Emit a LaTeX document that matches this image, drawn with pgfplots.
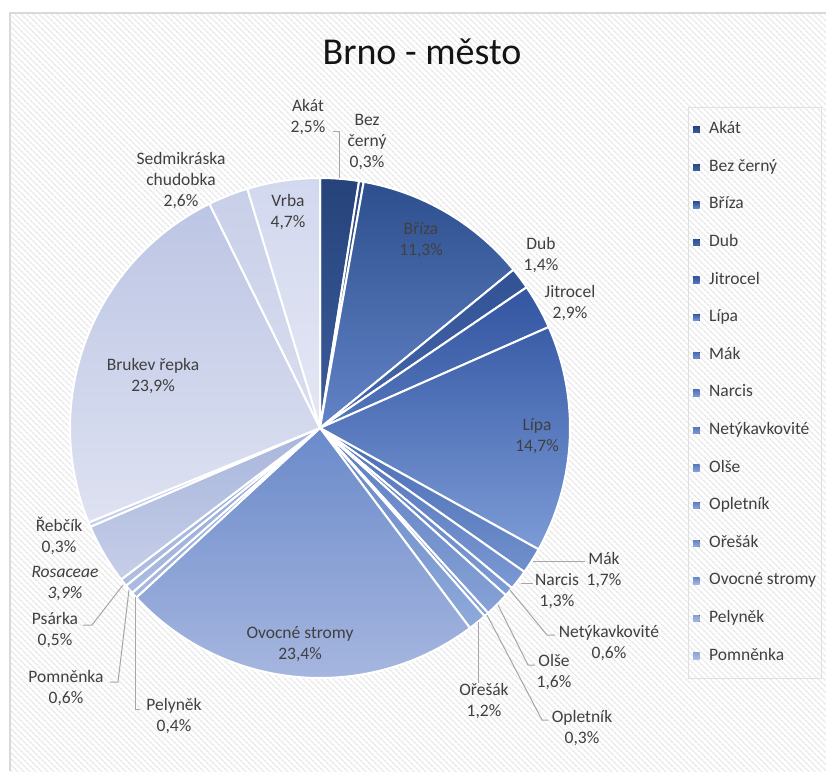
\documentclass[border=0pt]{standalone}
\usepackage{pgfplots}
\pgfplotsset{compat=1.18}
\usepackage{fontspec}
\setmainfont{Carlito}
\usetikzlibrary{patterns.meta}

\definecolor{lbl}{HTML}{404040}
\definecolor{lead}{HTML}{A6A6A6}
\definecolor{c1t}{HTML}{26437A}\definecolor{c1b}{HTML}{3C5C9C}
\definecolor{c2t}{HTML}{2A4882}\definecolor{c2b}{HTML}{4060A0}
\definecolor{c3t}{HTML}{2E4F8E}\definecolor{c3b}{HTML}{6283C6}
\definecolor{c4t}{HTML}{305294}\definecolor{c4b}{HTML}{486AAE}
\definecolor{c5t}{HTML}{3456A2}\definecolor{c5b}{HTML}{5476BA}
\definecolor{c6t}{HTML}{3A5DA8}\definecolor{c6b}{HTML}{7C9BD6}
\definecolor{c7t}{HTML}{4A6CB4}\definecolor{c7b}{HTML}{7090CC}
\definecolor{c8t}{HTML}{5272BA}\definecolor{c8b}{HTML}{7A98D2}
\definecolor{c9t}{HTML}{5878BE}\definecolor{c9b}{HTML}{809CD4}
\definecolor{c10t}{HTML}{5C7CC0}\definecolor{c10b}{HTML}{86A2D6}
\definecolor{c11t}{HTML}{6080C4}\definecolor{c11b}{HTML}{8AA6D8}
\definecolor{c12t}{HTML}{6584C6}\definecolor{c12b}{HTML}{8EAADA}
\definecolor{c13t}{HTML}{6A8ACA}\definecolor{c13b}{HTML}{A6B6DF}
\definecolor{c14t}{HTML}{8AA0D4}\definecolor{c14b}{HTML}{A8B8E0}
\definecolor{c15t}{HTML}{90A6D6}\definecolor{c15b}{HTML}{ACBCE2}
\definecolor{c16t}{HTML}{96AAD8}\definecolor{c16b}{HTML}{B0BEE2}
\definecolor{c17t}{HTML}{A8B6DC}\definecolor{c17b}{HTML}{C6CEE8}
\definecolor{c18t}{HTML}{B2BEE0}\definecolor{c18b}{HTML}{C8D0EA}
\definecolor{c19t}{HTML}{BCC5E4}\definecolor{c19b}{HTML}{DEE2F1}
\definecolor{c20t}{HTML}{C8CFE8}\definecolor{c20b}{HTML}{DADEF0}
\definecolor{c21t}{HTML}{D2D8EE}\definecolor{c21b}{HTML}{E4E7F4}

\tikzset{slice/.style={draw=white,line width=2pt,line join=round},
  lab/.style={align=center,text=lbl,font=\fontsize{17.5}{21}\selectfont,inner sep=0pt},
  ldr/.style={draw=lead,line width=1pt}}

\gdef\cum{0}
\newcommand\slice[3]{%
  \pgfmathsetmacro\sA{90-3.5964*\cum}%
  \pgfmathsetmacro\cumnew{\cum+#1}%
  \xdef\cum{\cumnew}%
  \pgfmathsetmacro\sB{90-3.5964*\cum}%
  \pgfmathtruncatemacro\samp{max(4,4*#1)}%
  \edef\temp{\noexpand\addplot[slice,top color=#2,bottom color=#3,domain=\sB:\sA,samples=\samp]}%
  \temp ({320+250*cos(x)},{343+250*sin(x)}) -- (axis cs:320,343) -- cycle;%
}

\begin{document}
\begin{tikzpicture}
\begin{axis}[x=1pt,y=1pt,xmin=0,xmax=826,ymin=0,ymax=771,hide axis,
  legend style={at={(axis description cs:0.8329,0.8612)},anchor=north west,
    draw=black!12,fill=none,font=\fontsize{17.5}{21}\selectfont,text=lbl,
    inner xsep=5pt,inner ysep=14pt,row sep=20.6pt,column sep=9.5pt,
    nodes={inner sep=0pt,text height=12.5pt,text depth=4.5pt}},
  legend cell align=left,
  legend image code/.code={\fill[#1,draw=none] (0pt,-3.25pt) rectangle (6.5pt,3.25pt);}]

\fill[white] (axis cs:0,0) rectangle (axis cs:826,771);
\fill[pattern={Lines[angle=-45,distance=4pt,line width=1.4pt]},pattern color=black!9]
  (axis cs:10,0) rectangle (axis cs:826,758);
\draw[black!15,line width=1.5pt] (axis cs:10,0) -- (axis cs:10,758) -- (axis cs:826,758);

\slice{2.5}{c1t}{c1b}\addlegendentry{Akát}
\slice{0.3}{c2t}{c2b}\addlegendentry{Bez černý}
\slice{11.3}{c3t}{c3b}\addlegendentry{Bříza}
\slice{1.4}{c4t}{c4b}\addlegendentry{Dub}
\slice{2.9}{c5t}{c5b}\addlegendentry{Jitrocel}
\slice{14.7}{c6t}{c6b}\addlegendentry{Lípa}
\slice{1.7}{c7t}{c7b}\addlegendentry{Mák}
\slice{1.3}{c8t}{c8b}\addlegendentry{Narcis}
\slice{0.6}{c9t}{c9b}\addlegendentry{Netýkavkovité}
\slice{1.6}{c10t}{c10b}\addlegendentry{Olše}
\slice{0.3}{c11t}{c11b}\addlegendentry{Opletník}
\slice{1.2}{c12t}{c12b}\addlegendentry{Ořešák}
\slice{23.4}{c13t}{c13b}\addlegendentry{Ovocné stromy}
\slice{0.4}{c14t}{c14b}\addlegendentry{Pelyněk}
\slice{0.6}{c15t}{c15b}\addlegendentry{Pomněnka}
\slice{0.5}{c16t}{c16b}
\slice{3.9}{c17t}{c17b}
\slice{0.3}{c18t}{c18b}
\slice{23.9}{c19t}{c19b}
\slice{2.6}{c20t}{c20b}
\slice{4.7}{c21t}{c21b}

% leader lines
\draw[ldr] (axis cs:333,639) -- (axis cs:339,639) -- (axis cs:339,593);
\draw[ldr] (axis cs:533,210) -- (axis cs:585,210);
\draw[ldr] (axis cs:521,188) -- (axis cs:533,188);
\draw[ldr] (axis cs:510,181) -- (axis cs:547,136) -- (axis cs:555,136);
\draw[ldr] (axis cs:498,166) -- (axis cs:528,106) -- (axis cs:535,106);
\draw[ldr] (axis cs:487,156) -- (axis cs:542,51) -- (axis cs:548,51);
\draw[ldr] (axis cs:478,149) -- (axis cs:478,88);
\draw[ldr] (axis cs:135,174) -- (axis cs:135,62) -- (axis cs:140,62);
\draw[ldr] (axis cs:129,181) -- (axis cs:118,89) -- (axis cs:110,89);
\draw[ldr] (axis cs:123,186) -- (axis cs:92,146) -- (axis cs:83,146);

% labels
\node[lab] at (axis cs:308,654) {Akát\\2,5\%};
\node[lab] at (axis cs:367,629) {Bez\\černý\\0,3\%};
\node[lab] at (axis cs:421,531) {Bříza\\11,3\%};
\node[lab] at (axis cs:541,516) {Dub\\1,4\%};
\node[lab] at (axis cs:570,468) {Jitrocel\\2,9\%};
\node[lab] at (axis cs:537,335) {Lípa\\14,7\%};
\node[lab] at (axis cs:604,201) {Mák\\1,7\%};
\node[lab] at (axis cs:557,179.5) {Narcis\\1,3\%};
\node[lab] at (axis cs:609,128) {Netýkavkovité\\0,6\%};
\node[lab] at (axis cs:554,98.5) {Olše\\1,6\%};
\node[lab] at (axis cs:582,43) {Opletník\\0,3\%};
\node[lab] at (axis cs:484,70) {Ořešák\\1,2\%};
\node[lab] at (axis cs:300,126.5) {Ovocné stromy\\23,4\%};
\node[lab] at (axis cs:174,54.5) {Pelyněk\\0,4\%};
\node[lab] at (axis cs:66,83) {Pomněnka\\0,6\%};
\node[lab] at (axis cs:55,140.5) {Psárka\\0,5\%};
\node[lab,font=\fontsize{17.5}{21}\selectfont\itshape] at (axis cs:65,187) {Rosaceae\\3,9\%};
\node[lab] at (axis cs:59,235) {Řebčík\\0,3\%};
\node[lab] at (axis cs:153,394.5) {Brukev řepka\\23,9\%};
\node[lab] at (axis cs:181,590) {Sedmikráska\\chudobka\\2,6\%};
\node[lab] at (axis cs:288,559) {Vrba\\4,7\%};

\node[anchor=base,font=\fontsize{38}{44}\selectfont,text=black!92,inner sep=0pt] at (axis cs:422,706) {Brno - město};
\end{axis}
\end{tikzpicture}
\end{document}
